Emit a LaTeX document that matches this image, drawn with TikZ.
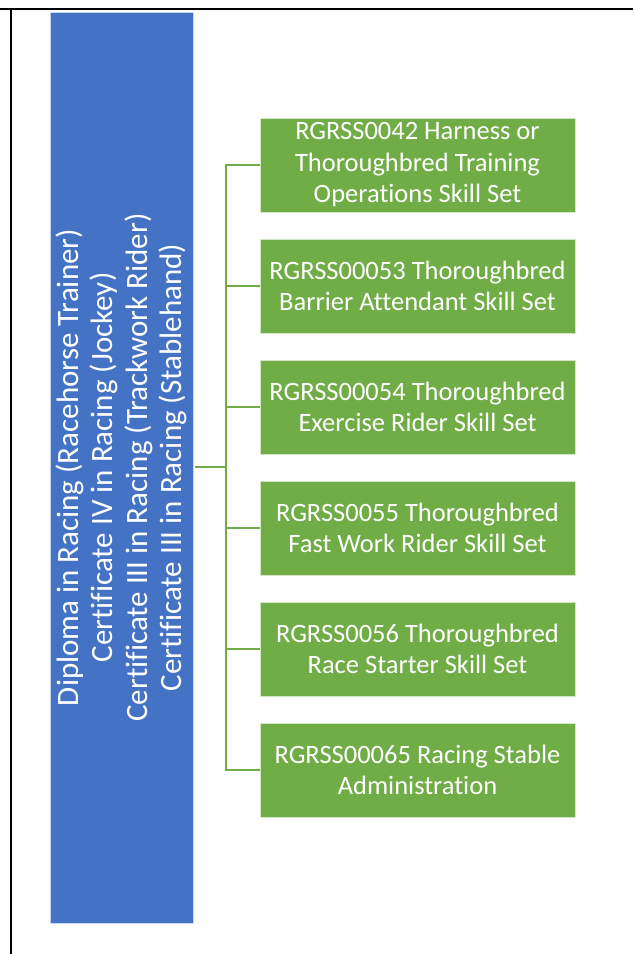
\documentclass[tikz,border=0pt]{standalone}
\usepackage{fontspec}
\setmainfont{Carlito}[Ligatures=NoCommon]
\definecolor{sablue}{HTML}{4472C4}
\definecolor{sagreen}{HTML}{70AD47}
\tikzset{
  rootbox/.style={fill=sablue, draw=white!70!sablue, line width=0.8pt, text=white, align=center, inner sep=0pt,
    font=\fontsize{31}{34.5}\selectfont},
  leafbox/.style={fill=sagreen, draw=white!70!sagreen, line width=0.8pt, text=white, align=center, inner sep=0pt,
    minimum width=315pt, minimum height=94pt, font=\fontsize{26.5}{31.5}\selectfont},
  conn/.style={draw=sagreen, line width=2pt},
  frame/.style={draw=black, line width=2pt}
}
\begin{document}
\begin{tikzpicture}[x=1pt,y=-1pt]
\useasboundingbox (0,0) rectangle (633,954);
\coordinate (tl) at (0,9);
\coordinate (tr) at (633,9);
\coordinate (lt) at (11,8);
\coordinate (lb) at (11,954);
\draw[frame] (tl) -- (tr);
\draw[frame] (lt) -- (lb);
\node[rootbox, rotate=90, minimum width=911pt, minimum height=143pt] (root) at (121.5,467.5)
  {Diploma in Racing (Racehorse Trainer)\\Certificate IV in Racing (Jockey)\\Certificate III in Racing (Trackwork Rider)\\Certificate III in Racing (Stablehand)};
\node[leafbox] (b1) at (417.5,165) {RGRSS0042 Harness or\\Thoroughbred Training\\Operations Skill Set};
\node[leafbox] (b2) at (417.5,286) {RGRSS00053 Thoroughbred\\Barrier Attendant Skill Set};
\node[leafbox] (b3) at (417.5,407) {RGRSS00054 Thoroughbred\\Exercise Rider Skill Set};
\node[leafbox] (b4) at (417.5,528) {RGRSS0055 Thoroughbred\\Fast Work Rider Skill Set};
\node[leafbox] (b5) at (417.5,649) {RGRSS0056 Thoroughbred\\Race Starter Skill Set};
\node[leafbox] (b6) at (417.5,770) {RGRSS00065 Racing Stable\\Administration};
\coordinate (j) at (226,467);
\draw[conn] ([xshift=2pt]root.south |- j) -- (j);
\foreach \b in {b1,b2,b3,b4,b5,b6}{
  \draw[conn] (j) |- (\b.west);
}
\end{tikzpicture}
\end{document}
